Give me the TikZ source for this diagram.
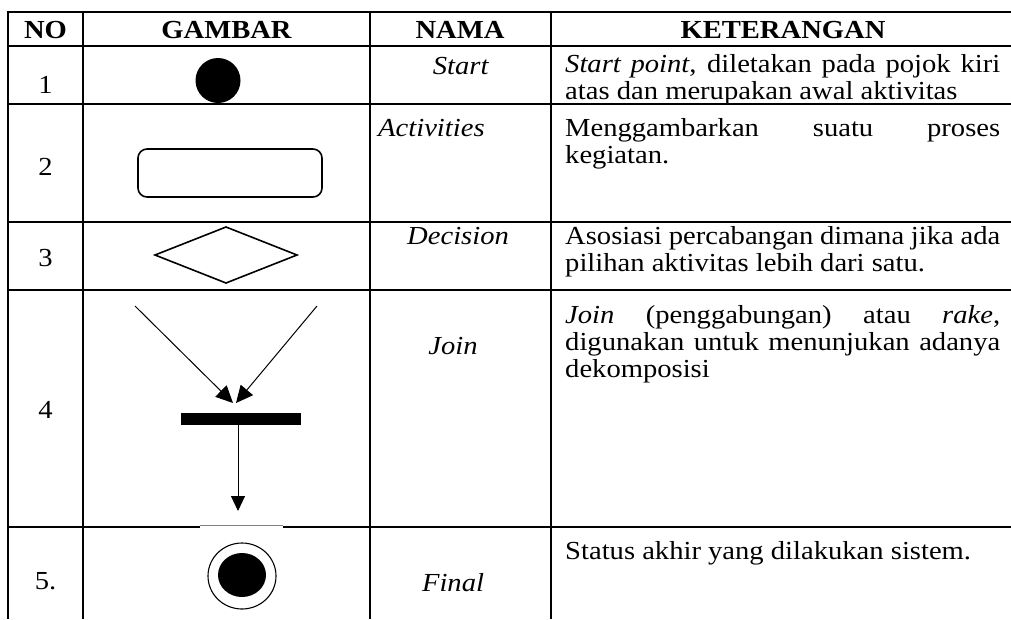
\documentclass[tikz,border=0pt]{standalone}
\usepackage{fontspec}
\setmainfont{Liberation Serif}[FakeStretch=1.1]
\usetikzlibrary{arrows.meta}
\begin{document}
\begin{tikzpicture}[x=1pt,y=-1pt,
  grid/.style={line width=2.4pt,black},
  txt/.style={inner sep=0pt,anchor=base west,font=\fontsize{26}{27}\selectfont},
  ctxt/.style={inner sep=0pt,anchor=base,font=\fontsize{26}{27}\selectfont},
  hdr/.style={inner sep=0pt,anchor=base,font=\fontsize{26}{27}\selectfont\bfseries},
  thin/.style={line width=1pt,black},
  bigtip/.style={-{Triangle[length=17pt,width=16pt]}},
  downtip/.style={-{Triangle[length=15pt,width=14pt]}}]
\useasboundingbox (0,0) rectangle (1011,619);
\fill[white] (0,0) rectangle (1011,619);

% table rules
\draw[grid] (8,12) -- (1011,12);
\draw[grid] (8,46) -- (1011,46);
\draw[grid] (8,104) -- (1011,104);
\draw[grid] (8,222) -- (1011,222);
\draw[grid] (8,290) -- (1011,290);
\draw[grid] (8,527) -- (200,527);
\draw[grid] (283,527) -- (1011,527);
\draw[line width=0.8pt,gray] (200,525.5) -- (283,525.5);
\foreach \x in {8,83,370,551} \draw[grid] (\x,10.8) -- (\x,619);

% header
\node[hdr] (hno)  at (45.5,38.5) {NO};
\node[hdr] (hgam) at (226.5,38.5) {GAMBAR};
\node[hdr] (hnam) at (460,38.5) {NAMA};
\node[hdr] (hket) at (783,38.5) {KETERANGAN};

% numbers
\node[ctxt] (n1) at (45.5,93) {1};
\node[ctxt] (n2) at (45.5,175) {2};
\node[ctxt] (n3) at (45.5,266) {3};
\node[ctxt] (n4) at (45.5,418) {4};
\node[ctxt] (n5) at (45.5,589) {5.};

% names
\node[ctxt] (s1) at (461,74) {\textit{Start}};
\node[txt]  (s2) at (378,136) {\textit{Activities}};
\node[txt]  (s3) at (407,244) {\textit{Decision}};
\node[ctxt] (s4) at (453,354) {\textit{Join}};
\node[ctxt] (s5) at (453,591) {\textit{Final}};

% descriptions
\node[txt] (k1a) at (565,72) {\makebox[435pt][s]{\textit{Start point}, diletakan pada pojok kiri}};
\node[txt] (k1b) at (565,99) {atas dan merupakan awal aktivitas};
\node[txt] (k2a) at (565,136) {\makebox[435pt][s]{Menggambarkan suatu proses}};
\node[txt] (k2b) at (565,163) {kegiatan.};
\node[txt] (k3a) at (565,244) {\makebox[435pt][s]{Asosiasi percabangan dimana jika ada}};
\node[txt] (k3b) at (565,271) {pilihan aktivitas lebih dari satu.};
\node[txt] (k4a) at (565,323) {\makebox[435pt][s]{\textit{Join} (penggabungan) atau \textit{rake},}};
\node[txt] (k4b) at (565,350) {\makebox[435pt][s]{digunakan untuk menunjukan adanya}};
\node[txt] (k4c) at (565,377) {dekomposisi};
\node[txt] (k5)  at (565,559) {Status akhir yang dilakukan sistem.};

% 1: start point
\fill (218,80.5) circle (22.5);

% 2: activity
\draw[line width=1.6pt,rounded corners=9pt] (138,149) rectangle (322,197);

% 3: decision
\draw[line width=1.6pt] (155,255) -- (226,227) -- (297,255) -- (226,283) -- cycle;

% 4: join
\coordinate (ja) at (135,306);
\coordinate (jb) at (317,306);
\coordinate (jl) at (233,403);
\coordinate (jr) at (236,403);
\node[fill,inner sep=0pt,minimum width=120pt,minimum height=12pt] (bar) at (241,419) {};
\coordinate (jend) at (238,511);
\draw[thin,bigtip] (ja) -- (jl);
\draw[thin,bigtip] (jb) -- (jr);
\draw[thin,downtip] (bar.south -| jend) -- (jend);

% 5: final
\draw[line width=1.1pt] (242,576) ellipse [x radius=34, y radius=33];
\fill (242,575) ellipse [x radius=24, y radius=22];
\end{tikzpicture}
\end{document}
